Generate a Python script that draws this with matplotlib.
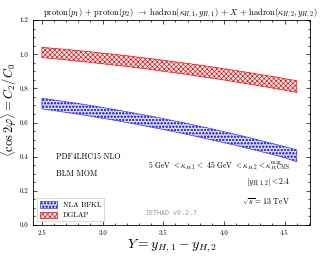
import matplotlib
matplotlib.use("Agg")
import matplotlib.pyplot as plt
from matplotlib.ticker import MultipleLocator, AutoMinorLocator, FormatStrFormatter

plt.rcParams['font.family'] = 'serif'
plt.rcParams['font.serif'] = ['cmr10', 'DejaVu Serif']
plt.rcParams['mathtext.fontset'] = 'cm'
plt.rcParams['axes.formatter.use_mathtext'] = True
plt.rcParams['hatch.linewidth'] = 0.5

Y = [2.5, 2.6, 2.7, 2.8, 2.9, 3.0, 3.1, 3.2, 3.3, 3.4, 3.5,
     3.6, 3.7, 3.8, 3.9, 4.0, 4.1, 4.2, 4.3, 4.4, 4.5, 4.6]

bfkl_hi = [0.742, 0.732, 0.722, 0.711, 0.700, 0.688, 0.676, 0.663, 0.650, 0.637, 0.623,
           0.608, 0.594, 0.578, 0.563, 0.546, 0.530, 0.513, 0.495, 0.477, 0.459, 0.440]
bfkl_lo = [0.680, 0.670, 0.659, 0.649, 0.637, 0.625, 0.613, 0.600, 0.587, 0.573, 0.559,
           0.545, 0.530, 0.514, 0.498, 0.482, 0.466, 0.448, 0.431, 0.413, 0.394, 0.370]
dglap_hi = [1.040, 1.034, 1.028, 1.021, 1.014, 1.006, 0.999, 0.991, 0.982, 0.974, 0.965,
            0.955, 0.946, 0.936, 0.926, 0.915, 0.904, 0.893, 0.881, 0.870, 0.857, 0.845]
dglap_lo = [0.980, 0.974, 0.967, 0.959, 0.952, 0.944, 0.936, 0.928, 0.919, 0.910, 0.900,
            0.891, 0.881, 0.870, 0.860, 0.849, 0.837, 0.826, 0.814, 0.802, 0.789, 0.776]

fig = plt.figure(figsize=(3.21, 2.57), dpi=100)
ax = fig.add_axes([0.103, 0.1245, 0.863, 0.7975])

ax.fill_between(Y, bfkl_lo, bfkl_hi, facecolor=(0.88, 0.88, 1.0), edgecolor=(0.2, 0.2, 1.0),
                hatch='ooooo', linewidth=0.5, label='NLA BFKL', zorder=2)
ax.fill_between(Y, dglap_lo, dglap_hi, facecolor='white', edgecolor='red',
                hatch='xxxxxxx', linewidth=0.5, label='DGLAP', zorder=2)

ax.set_xlim(2.427, 4.71)
ax.set_ylim(0.0, 1.2)
ax.xaxis.set_major_locator(MultipleLocator(0.5))
ax.xaxis.set_minor_locator(AutoMinorLocator(5))
ax.yaxis.set_major_locator(MultipleLocator(0.2))
ax.yaxis.set_minor_locator(AutoMinorLocator(4))
ax.tick_params(which='both', direction='in', top=True, right=True, labelsize=5, width=0.5)
ax.tick_params(which='major', length=3)
ax.tick_params(which='minor', length=1.5)
ax.xaxis.set_major_formatter(FormatStrFormatter('%.1f'))
ax.yaxis.set_major_formatter(FormatStrFormatter('%.1f'))
for s in ax.spines.values():
    s.set_linewidth(0.6)

ax.set_title(r'proton$(p_1)$ + proton$(p_2)$ $\to$ hadron$(\kappa_{H,1}, y_{H,1})$ + $X$ + hadron$(\kappa_{H,2}, y_{H,2})$',
             fontsize=6.1, pad=3, x=0.53)
ax.set_xlabel(r'$Y = y_{H,1} - y_{H,2}$', fontsize=10)
ax.xaxis.set_label_coords(0.5, -0.06)
ax.xaxis.label.set_va('top')
ax.set_ylabel(r'$\langle \cos 2\varphi \rangle = C_2/C_0$', fontsize=9)
ax.yaxis.set_label_coords(-0.05, 0.56)

fs = 5.7
ax.text(0.083, 0.333, 'PDF4LHC15 NLO', transform=ax.transAxes, fontsize=fs, va='center')
ax.text(0.083, 0.25, 'BLM MOM', transform=ax.transAxes, fontsize=fs, va='center')
ax.text(0.928, 0.285, r'5 GeV $< \kappa_{H,1} <$ 45 GeV $< \kappa_{H,2} < \kappa_{H,\rm CMS}^{\rm max}$',
        transform=ax.transAxes, fontsize=5.5, ha='right', va='center')
ax.text(0.928, 0.205, r'$|y_{H,1,2}| < 2.4$', transform=ax.transAxes, fontsize=fs, ha='right', va='center')
ax.text(0.928, 0.115, r'$\sqrt{s} = 13$ TeV', transform=ax.transAxes, fontsize=fs, ha='right', va='center')
ax.text(0.405, 0.06, 'JETHAD v0.2.7', transform=ax.transAxes, fontsize=4.8, color='0.6',
        family='DejaVu Sans Mono', va='center')

leg = ax.legend(loc='lower left', fontsize=5.3, frameon=True, fancybox=False,
                edgecolor='0.75', borderpad=0.4, handlelength=2.3, handleheight=1.0,
                labelspacing=0.45, bbox_to_anchor=(0.0, 0.0))
leg.get_frame().set_linewidth(0.5)

fig.savefig('out.png', dpi=100)
